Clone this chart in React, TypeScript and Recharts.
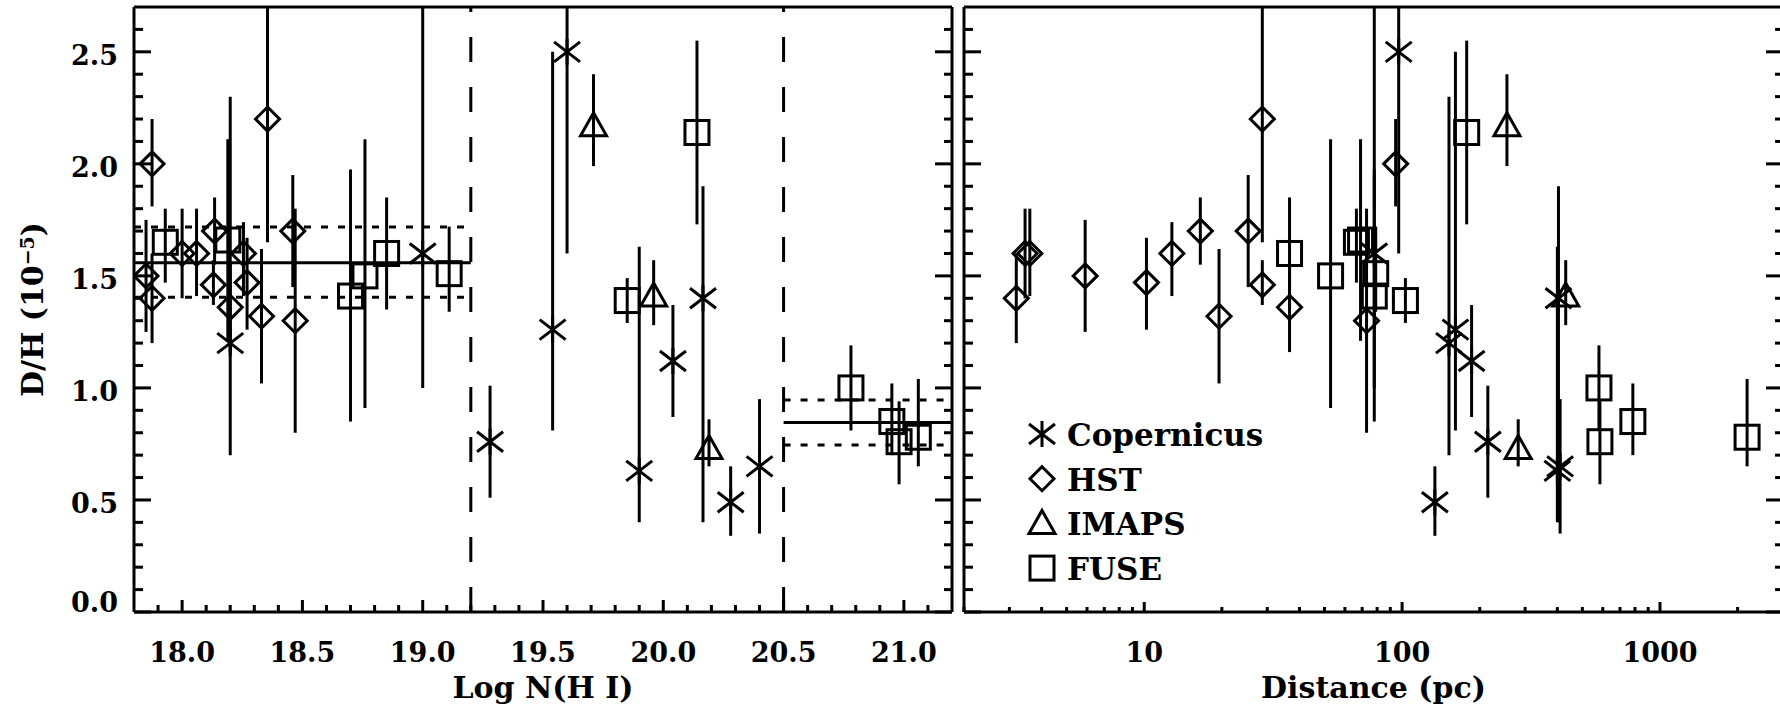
import React from 'react';
import { ScatterChart, Scatter, XAxis, YAxis, ErrorBar, ReferenceLine, Legend } from 'recharts';

// Copernicus (asterisks)
const copLogN = [18.2, 19.0, 19.28, 19.54, 19.6, 19.9, 20.04, 20.165, 20.28, 20.4];
const copDist = [152, 78, 215, 161, 97, 400, 186, 404, 134, 410];
const copDH = [1.2, 1.6, 0.76, 1.26, 2.5, 0.63, 1.12, 1.4, 0.49, 0.65];
const copLo = [0.7, 1.0, 0.51, 0.81, 1.6, 0.4, 0.87, 0.4, 0.34, 0.35];
const copHi = [2.3, 2.7, 1.01, 2.5, 2.7, 1.63, 1.37, 1.9, 0.65, 0.95];

// HST (diamonds)
const hstLogN = [17.85, 17.875, 17.875, 18.0, 18.06, 18.135, 18.13, 18.2, 18.255, 18.27, 18.33, 18.355, 18.46, 18.47];
const hstDist = [5.9, 94.4, 3.19, 3.45, 3.6, 16.5, 28.7, 36.6, 12.8, 10.2, 19.5, 28.7, 25.3, 72.8];
const hstDH = [1.5, 2.0, 1.4, 1.6, 1.6, 1.7, 1.46, 1.36, 1.6, 1.47, 1.32, 2.2, 1.7, 1.3];
const hstLo = [1.25, 1.81, 1.2, 1.4, 1.41, 1.55, 1.37, 1.16, 1.41, 1.26, 1.02, 1.65, 1.45, 0.8];
const hstHi = [1.75, 2.2, 1.6, 1.8, 1.8, 1.85, 1.57, 1.56, 1.74, 1.67, 1.62, 2.7, 1.95, 1.8];

// IMAPS (triangles)
const imapsLogN = [19.71, 19.96, 20.19];
const imapsDist = [255, 431, 282];
const imapsDH = [2.17, 1.41, 0.73];
const imapsLo = [1.99, 1.28, 0.65];
const imapsHi = [2.4, 1.57, 0.86];

// FUSE (squares)
const fuseLogN = [17.93, 18.19, 18.7, 18.76, 18.85, 19.11, 19.85, 20.14, 20.78, 20.95, 20.98, 21.06];
const fuseDist = [66.5, 69, 78, 52.8, 36.6, 79, 103, 178, 580, 785, 585, 2177];
const fuseDH = [1.65, 1.66, 1.41, 1.5, 1.6, 1.51, 1.39, 2.14, 1.0, 0.85, 0.76, 0.78];
const fuseLo = [1.47, 1.21, 0.85, 0.91, 1.35, 1.34, 1.29, 1.73, 0.81, 0.7, 0.57, 0.65];
const fuseHi = [1.8, 2.11, 1.975, 2.11, 1.85, 1.72, 1.49, 2.55, 1.19, 1.02, 0.94, 1.04];

// regime boundaries and mean values with their spread
const boundaries = [19.2, 20.5];
const lowMean = 1.559;
const lowBand = [1.405, 1.718];
const highMean = 0.846;
const highBand = [0.745, 0.946];

const seriesNames = ['Copernicus', 'HST', 'IMAPS', 'FUSE'];

const font = { fontFamily: 'DejaVu Serif', fontWeight: 700, fill: '#000' };
const ink = { stroke: '#000', strokeWidth: 3, fill: 'none' };
const axisStyle = { stroke: '#000', strokeWidth: 3 };

type Row = { x: number; y: number; err: [number, number] };
const build = (xs: number[], dh: number[], lo: number[], hi: number[]): Row[] =>
  xs.map((x, i) => ({ x, y: dh[i], err: [dh[i] - lo[i], hi[i] - dh[i]] }));

const Asterisk = ({ cx, cy }: any) => (
  <path {...ink} d={`M${cx},${cy - 13}V${cy + 13}M${cx - 13},${cy - 10}L${cx + 13},${cy + 10}M${cx - 13},${cy + 10}L${cx + 13},${cy - 10}`} />
);
const Diamond = ({ cx, cy }: any) => (
  <path {...ink} d={`M${cx},${cy - 12}L${cx + 12},${cy}L${cx},${cy + 12}L${cx - 12},${cy}Z`} />
);
const Triangle = ({ cx, cy }: any) => (
  <path {...ink} d={`M${cx},${cy - 13}L${cx + 13},${cy + 10}L${cx - 13},${cy + 10}Z`} />
);
const Square = ({ cx, cy }: any) => (
  <rect {...ink} x={cx - 12} y={cy - 12} width={24} height={24} />
);

const shapes: Record<string, any> = { Copernicus: Asterisk, HST: Diamond, IMAPS: Triangle, FUSE: Square };

const tenths = (a: number, b: number) => {
  const out: number[] = [];
  for (let k = Math.round(a * 10); k <= Math.round(b * 10); k++) out.push(k / 10);
  return out;
};
const decades = (a: number, b: number) => {
  const out: number[] = [];
  for (const d of [1, 10, 100, 1000]) for (let m = 1; m <= 9; m++) if (m * d >= a && m * d <= b) out.push(m * d);
  return out;
};

const dhTicks = tenths(0, 2.6);
const nhTicks = tenths(17.9, 21.1);
const distTicks = decades(2, 3000);

const isHalf = (v: number) => Math.abs(v * 2 - Math.round(v * 2)) < 1e-6;
const isDecade = (v: number) => Math.abs(Math.log10(v) - Math.round(Math.log10(v))) < 1e-6;

// inward-pointing tick marks, drawn as small filled bars
type Side = 'left' | 'right' | 'top' | 'bottom';
const tickFor = (side: Side, major: (v: number) => boolean, bigLen: number, smallLen: number, label?: (v: number) => string) =>
  (props: any) => {
    const x = Number(props.x);
    const y = Number(props.y);
    const v = props.payload.value as number;
    const big = major(v);
    const len = big ? bigLen : smallLen;
    let mark;
    if (side === 'left') mark = <rect x={x} y={y - 1.5} width={len} height={3} fill="#000" />;
    else if (side === 'right') mark = <rect x={x - len} y={y - 1.5} width={len} height={3} fill="#000" />;
    else if (side === 'top') mark = <rect x={x - 1.5} y={y} width={3} height={len} fill="#000" />;
    else mark = <rect x={x - 1.5} y={y - len} width={3} height={len} fill="#000" />;
    let text = null;
    if (label && big) {
      text = side === 'left'
        ? <text x={x - 16} y={v === 0 ? y - 10 : y + 3} dy="0.36em" textAnchor="end" fontSize={27} {...font}>{label(v)}</text>
        : <text x={x} y={y + 50} textAnchor="middle" fontSize={27} {...font}>{label(v)}</text>;
    }
    return (
      <g>
        {mark}
        {text}
      </g>
    );
  };

const DHLabel = (props: any) => {
  const vb = props.viewBox || { y: 7, height: 605 };
  const cy = vb.y + vb.height / 2;
  return (
    <text transform={`translate(43,${cy}) rotate(-90)`} textAnchor="middle" fontSize={30} {...font}>
      D/H (10<tspan dy={-9} fontSize={19}>−5</tspan><tspan dy={9}>)</tspan>
    </text>
  );
};

const renderLegend = () => (
  <svg width={270} height={190}>
    {seriesNames.map((name, i) => {
      const cy = 24 + i * 44.7;
      const Shape = shapes[name];
      return (
        <g key={name}>
          <Shape cx={20} cy={cy} />
          <text x={45} y={cy + 12} fontSize={31} {...font}>{name}</text>
        </g>
      );
    })}
  </svg>
);

const leftSeries = [
  { name: 'Copernicus', data: build(copLogN, copDH, copLo, copHi) },
  { name: 'HST', data: build(hstLogN, hstDH, hstLo, hstHi) },
  { name: 'IMAPS', data: build(imapsLogN, imapsDH, imapsLo, imapsHi) },
  { name: 'FUSE', data: build(fuseLogN, fuseDH, fuseLo, fuseHi) },
];
const rightSeries = [
  { name: 'Copernicus', data: build(copDist, copDH, copLo, copHi) },
  { name: 'HST', data: build(hstDist, hstDH, hstLo, hstHi) },
  { name: 'IMAPS', data: build(imapsDist, imapsDH, imapsLo, imapsHi) },
  { name: 'FUSE', data: build(fuseDist, fuseDH, fuseLo, fuseHi) },
];

const renderSeries = (list: { name: string; data: Row[] }[]) =>
  list.map((s) => {
    const Shape = shapes[s.name];
    return (
      <Scatter key={s.name} name={s.name} data={s.data} xAxisId="b" yAxisId="l"
        shape={(p: any) => <Shape cx={p.cx} cy={p.cy} />} isAnimationActive={false}>
        <ErrorBar dataKey="err" direction="y" width={0} stroke="#000" strokeWidth={3} />
      </Scatter>
    );
  });

const yAxes = (leftWidth: number, withLabels: boolean) => [
  <YAxis key="l" yAxisId="l" type="number" dataKey="y" domain={[0, 2.7]} allowDataOverflow ticks={dhTicks} interval={0}
    width={leftWidth} tickSize={0} tickMargin={0} axisLine={axisStyle} tickLine={false}
    tick={tickFor('left', isHalf, 17, 9, withLabels ? (v) => v.toFixed(1) : undefined)}
    label={withLabels ? DHLabel : undefined} />,
  <YAxis key="r" yAxisId="r" orientation="right" type="number" domain={[0, 2.7]} allowDataOverflow ticks={dhTicks} interval={0}
    width={1} tickSize={0} tickMargin={0} axisLine={axisStyle} tickLine={false}
    tick={tickFor('right', isHalf, 17, 8)} />,
];

function LeftPanel() {
  return (
    <ScatterChart width={960} height={713} margin={{ top: 6, right: 7, bottom: 0, left: 0 }}>
      <XAxis xAxisId="b" type="number" dataKey="x" domain={[17.8, 21.2]} allowDataOverflow ticks={nhTicks} interval={0}
        height={101} tickSize={0} tickMargin={0} axisLine={axisStyle} tickLine={false}
        tick={tickFor('bottom', isHalf, 12, 7, (v) => v.toFixed(1))}
        label={{ value: 'Log N(H I)', position: 'insideBottom', offset: 15, fontSize: 30, ...font }} />
      <XAxis xAxisId="t" orientation="top" type="number" domain={[17.8, 21.2]} allowDataOverflow ticks={nhTicks} interval={0}
        height={1} tickSize={0} tickMargin={0} axisLine={axisStyle} tickLine={false}
        tick={tickFor('top', isHalf, 12, 7)} />
      {yAxes(134, true)}
      {boundaries.map((b) => (
        <ReferenceLine key={b} xAxisId="b" yAxisId="l" x={b} stroke="#000" strokeWidth={3} strokeDasharray="25 25" />
      ))}
      <ReferenceLine xAxisId="b" yAxisId="l" segment={[{ x: 17.8, y: lowMean }, { x: boundaries[0], y: lowMean }]} stroke="#000" strokeWidth={3} />
      {lowBand.map((v) => (
        <ReferenceLine key={v} xAxisId="b" yAxisId="l" segment={[{ x: 17.8, y: v }, { x: boundaries[0], y: v }]} stroke="#000" strokeWidth={3} strokeDasharray="7 10" />
      ))}
      <ReferenceLine xAxisId="b" yAxisId="l" segment={[{ x: boundaries[1], y: highMean }, { x: 21.2, y: highMean }]} stroke="#000" strokeWidth={3} />
      {highBand.map((v) => (
        <ReferenceLine key={v} xAxisId="b" yAxisId="l" segment={[{ x: boundaries[1], y: v }, { x: 21.2, y: v }]} stroke="#000" strokeWidth={3} strokeDasharray="7 10" />
      ))}
      {renderSeries(leftSeries)}
    </ScatterChart>
  );
}

function RightPanel() {
  return (
    <ScatterChart width={839} height={713} margin={{ top: 6, right: 7, bottom: 0, left: 0 }}>
      <XAxis xAxisId="b" type="number" scale="log" dataKey="x" domain={[2, 3000]} allowDataOverflow ticks={distTicks} interval={0}
        height={101} tickSize={0} tickMargin={0} axisLine={axisStyle} tickLine={false}
        tick={tickFor('bottom', isDecade, 10, 5, (v) => String(v))}
        label={{ value: 'Distance (pc)', position: 'insideBottom', offset: 15, fontSize: 30, ...font }} />
      <XAxis xAxisId="t" orientation="top" type="number" scale="log" domain={[2, 3000]} allowDataOverflow ticks={distTicks} interval={0}
        height={1} tickSize={0} tickMargin={0} axisLine={axisStyle} tickLine={false}
        tick={tickFor('top', isDecade, 10, 5)} />
      {yAxes(12, false)}
      {renderSeries(rightSeries)}
      <Legend layout="vertical" align="center" verticalAlign="middle" content={renderLegend}
        wrapperStyle={{ left: 70, top: 410, width: 270 }} />
    </ScatterChart>
  );
}

export default function App() {
  return (
    <div style={{ position: 'absolute', left: 0, top: 0, width: 1780, height: 713, overflow: 'hidden', background: '#fff' }}>
      <div style={{ position: 'absolute', left: 0, top: 0 }}>
        <LeftPanel />
      </div>
      <div style={{ position: 'absolute', left: 952, top: 0 }}>
        <RightPanel />
      </div>
    </div>
  );
}
